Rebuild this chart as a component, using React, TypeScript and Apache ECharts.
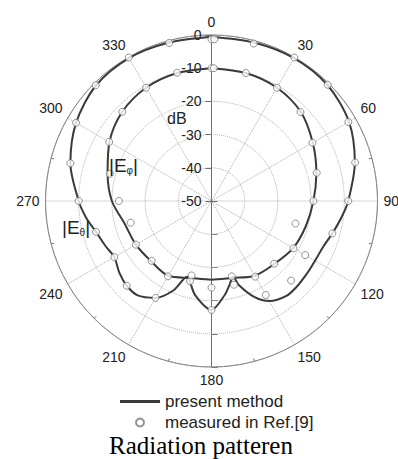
import React, { useEffect, useRef } from "react";
import * as echarts from "echarts";

// present method (computed) E_theta
const thetaLineAngles = [0, 15, 30, 45, 60, 75, 90, 97, 105, 112, 120, 127, 135, 142, 150, 156, 162, 164, 168, 172, 180, 190, 198, 203, 210, 218, 225, 232, 240, 247, 255, 262, 270, 285, 300, 315, 330, 345, 360];
const thetaLineDb = [-0.5, -0.6, -0.3, -0.6, -2.2, -5.3, -8.8, -10.5, -12.3, -13.6, -14.0, -13.9, -13.6, -13.6, -15.2, -18.4, -23.4, -26.3, -24.1, -21.4, -17.2, -21.3, -26, -20.8, -16.3, -13.9, -13.9, -14.8, -16.2, -15.3, -14, -12, -10, -6, -2.9, -0.8, -0.3, -0.6, -0.5];

// present method (computed) E_phi
const phiLineAngles = [0, 15, 30, 45, 60, 75, 90, 105, 120, 135, 150, 165, 180, 195, 210, 225, 240, 255, 270, 285, 300, 315, 330, 345, 360];
const phiLineDb = [-10, -10.1, -10.6, -12, -14.8, -17.3, -19.3, -20.6, -21.6, -23.2, -24, -26, -26.3, -26, -24, -24.3, -23.7, -23, -20, -17.6, -14.5, -12, -10.6, -10.1, -10];

// measured in Ref.[9]
const measAngles = [0, 1, 15, 30, 45, 60, 75, 90, 105, 120, 135, 150, 165, 180, 195, 210, 225, 240, 255, 270, 285, 300, 315, 330, 345];
const measThetaDb = [-1.3, -1.3, -0.9, -0.1, -0.5, -2.4, -5.2, -8.8, -12.3, -17.4, -16.1, -17.3, -23.9, -17.2, -25, -16.3, -13.9, -16.2, -14, -10, -6, -2.9, -0.7, -0.1, -0.7];
const measPhiDb = [-10, -10, -10.1, -10.6, -12.1, -14.9, -17.2, -19.3, -23.8, -21.5, -23.3, -23.7, -26.5, -23.9, -26.8, -23.8, -24.5, -23.7, -24.8, -22.1, -18.3, -14.4, -12, -10.6, -10];

const angleTicks = [0, 30, 60, 90, 120, 150, 180, 210, 240, 270, 300, 330];
const radiusMin = -50;
const radiusMax = 0;

const LINE_COLOR = "#3a3a3a";
const GRID_COLOR = "#aaaaaa";
const AXIS_COLOR = "#707070";
const FONT = "Liberation Sans, Arial, sans-serif";

const pairs = (angles: number[], vals: number[]) => angles.map((a, i) => [vals[i], a]);

export default function App() {
  const ref = useRef<HTMLDivElement>(null);
  useEffect(() => {
    if (!ref.current) return;
    const chart = echarts.init(ref.current, undefined, { renderer: "svg" });
    const center = [211.5, 201];
    const radius = 166;
    const option: any = {
      animation: false,
      backgroundColor: "#ffffff",
      title: {
        text: "Radiation patteren",
        left: 109,
        top: 433,
        padding: 0,
        textStyle: { fontFamily: "Liberation Serif, Times New Roman, serif", fontSize: 25, lineHeight: 25, fontWeight: "normal", color: "#000" },
      },
      legend: {
        orient: "vertical",
        left: 115,
        top: 388,
        itemWidth: 40,
        itemHeight: 8,
        itemGap: 4,
        textStyle: { fontSize: 17, color: "#222", fontFamily: FONT, lineHeight: 16 },
        data: [
          { name: "present method", icon: "path://M0,0L40,0L40,3L0,3Z", itemStyle: { color: LINE_COLOR } },
          { name: "measured in Ref.[9]" },
        ],
      },
      polar: [
        { center, radius },
        { center, radius },
      ],
      angleAxis: [
        {
          polarIndex: 0,
          type: "value",
          min: 0,
          max: 360,
          interval: 30,
          startAngle: 90,
          clockwise: true,
          axisLine: { lineStyle: { color: AXIS_COLOR, width: 1 } },
          axisTick: { show: false, inside: true },
          minorTick: { show: true, splitNumber: 2, length: 3, lineStyle: { color: AXIS_COLOR } },
          axisLabel: {
            fontSize: 14,
            color: "#222",
            fontFamily: FONT,
            margin: 6,
            formatter: (v: number) => (angleTicks.includes(v) ? String(v) : ""),
          },
          splitLine: { show: true, lineStyle: { color: GRID_COLOR, type: "dotted", width: 1 } },
        },
        {
          polarIndex: 1,
          type: "value",
          min: 0,
          max: 360,
          startAngle: 270,
          axisLine: { show: false },
          axisTick: { show: false },
          axisLabel: { show: false },
          splitLine: { show: false },
        },
      ],
      radiusAxis: [
        {
          polarIndex: 0,
          type: "value",
          min: radiusMin,
          max: radiusMax,
          interval: 10,
          axisLine: { lineStyle: { color: AXIS_COLOR, width: 1 } },
          axisTick: { show: true, length: 6, lineStyle: { color: AXIS_COLOR } },
          axisLabel: { fontSize: 14, color: "#222", fontFamily: FONT, margin: 6, padding: [0, 4, 0, 0] },
          splitLine: { show: true, lineStyle: { color: GRID_COLOR, type: "dotted", width: 1 } },
          z: 1,
        },
        {
          polarIndex: 1,
          type: "value",
          min: radiusMin,
          max: radiusMax,
          interval: 10,
          axisLine: { lineStyle: { color: AXIS_COLOR, width: 1 } },
          axisTick: { show: true, length: 6, lineStyle: { color: AXIS_COLOR } },
          axisLabel: { show: false },
          splitLine: { show: false },
        },
      ],
      graphic: [
        {
          type: "text",
          left: 167,
          top: 110,
          style: { text: "dB", fontSize: 16, fontFamily: FONT, fill: "#222" },
          z: 100,
        },
        {
          type: "text",
          left: 109,
          top: 156,
          style: {
            text: "{m||E}{s|\u03c6}{m||}",
            rich: {
              m: { fontSize: 19, fontFamily: FONT, fill: "#222" },
              s: { fontSize: 10, fontFamily: FONT, fill: "#222", verticalAlign: "bottom" },
            },
          },
          z: 100,
        },
        {
          type: "text",
          left: 62,
          top: 218,
          style: {
            text: "{m||E}{s|\u03b8}{m||}",
            rich: {
              m: { fontSize: 19, fontFamily: FONT, fill: "#222" },
              s: { fontSize: 10, fontFamily: FONT, fill: "#222", verticalAlign: "bottom" },
            },
          },
          z: 100,
        },
      ],
      series: [
        {
          name: "present method",
          type: "line",
          coordinateSystem: "polar",
          polarIndex: 0,
          data: pairs(thetaLineAngles, thetaLineDb),
          smooth: 0.3,
          symbol: "none",
          lineStyle: { color: LINE_COLOR, width: 2 },
          itemStyle: { color: LINE_COLOR },
          z: 3,
        },
        {
          name: "present method",
          type: "line",
          coordinateSystem: "polar",
          polarIndex: 0,
          data: pairs(phiLineAngles, phiLineDb),
          smooth: 0.3,
          symbol: "none",
          lineStyle: { color: LINE_COLOR, width: 2 },
          itemStyle: { color: LINE_COLOR },
          z: 3,
        },
        {
          name: "measured in Ref.[9]",
          type: "scatter",
          coordinateSystem: "polar",
          polarIndex: 0,
          data: pairs(measAngles, measThetaDb),
          symbol: "circle",
          symbolSize: 7,
          itemStyle: { color: "#ffffff", borderColor: "#777777", borderWidth: 1 },
          z: 4,
        },
        {
          name: "measured in Ref.[9]",
          type: "scatter",
          coordinateSystem: "polar",
          polarIndex: 0,
          data: pairs(measAngles, measPhiDb),
          symbol: "circle",
          symbolSize: 7,
          itemStyle: { color: "#ffffff", borderColor: "#777777", borderWidth: 1 },
          z: 4,
        },
      ],
    };
    chart.setOption(option);
    return () => chart.dispose();
  }, []);
  return <div ref={ref} style={{ position: "absolute", left: 0, top: 0, width: 398, height: 459 }} />;
}
